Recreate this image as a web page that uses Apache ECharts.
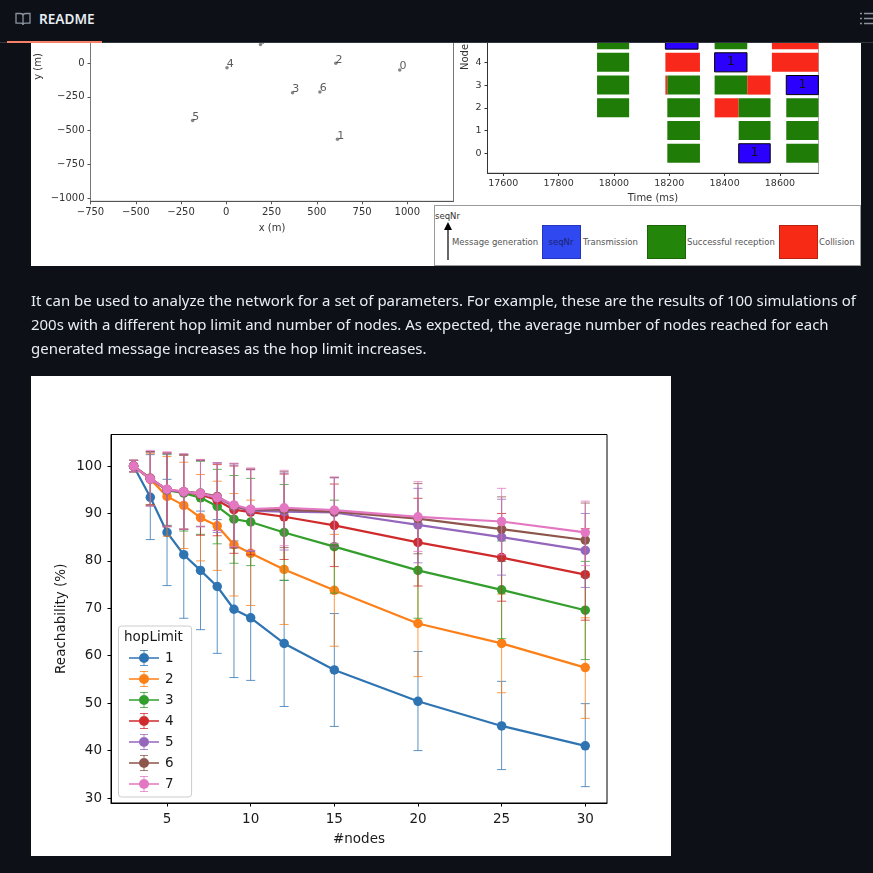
<!DOCTYPE html>
<html>
<head>
<meta charset="utf-8">
<style>
html,body{margin:0;padding:0;width:873px;height:873px;overflow:hidden;background:#0d1117;}
#wrap{position:relative;width:873px;height:873px;overflow:hidden;}
.white{position:absolute;background:#fff;}
#chart{position:absolute;left:0;top:0;width:873px;height:873px;}
#header{position:absolute;left:0;top:0;width:873px;height:43px;background:#0d1117;border-bottom:1px solid #30363d;box-sizing:border-box;}
#tab{position:absolute;left:7px;top:41px;width:95px;height:2px;background:#f78166;}
#readme{position:absolute;left:39px;top:9px;font:600 13.6px/20px "Noto Sans",sans-serif;color:#e6edf3;}
#para{position:absolute;left:31px;top:288px;width:835px;font:14.97px/24px "Noto Sans",sans-serif;color:#e6edf3;white-space:nowrap;}
#key{position:absolute;left:434px;top:205px;width:427px;height:60.5px;box-sizing:border-box;border:1.5px solid #9b9b9b;background:#fff;font:8.5px/10px "DejaVu Sans",sans-serif;color:#555;}
#key span{position:absolute;white-space:nowrap;}
#key i{position:absolute;top:19px;width:39px;height:34px;box-sizing:border-box;}
svg{position:absolute;}
</style>
</head>
<body>
<div id="wrap">
  <div class="white" style="left:31px;top:43px;width:830px;height:223px;"></div>
  <div class="white" style="left:31px;top:376px;width:640px;height:480px;"></div>
  <div id="chart"></div>
  <div id="key">
    <span style="left:0px;top:5px;color:#333;">seqNr</span>
    <svg style="left:8px;top:15px;" width="10" height="40"><path d="M5 39V6" stroke="#000" stroke-width="1.2" fill="none"/><path d="M5 1L9 9H1Z" fill="#000"/></svg>
    <span style="left:17px;top:31px;">Message generation</span>
    <i style="left:106.500px;background:#3048ef;border:1px solid #2433c0;"></i>
    <span style="left:106.500px;width:39px;text-align:center;top:31px;color:#1a2370;">seqNr</span>
    <span style="left:148px;top:31px;">Transmission</span>
    <i style="left:211.500px;background:#23850a;border:1px solid #1a6607;"></i>
    <span style="left:252px;top:31px;">Successful reception</span>
    <i style="left:343.500px;background:#f62a15;border:1px solid #b8200f;"></i>
    <span style="left:384px;top:31px;">Collision</span>
  </div>
  <div id="para">It can be used to analyze the network for a set of parameters. For example, these are the results of 100 simulations of<br>200s with a different hop limit and number of nodes. As expected, the average number of nodes reached for each<br>generated message increases as the hop limit increases.</div>
  <div id="header">
    <svg style="left:15px;top:11px;" width="16" height="16" viewBox="0 0 16 16"><path d="M1 2.500h4.500c1.400 0 2.500 1 2.500 2.300V14c0-1-1-1.800-2.200-1.800H1zM15 2.500h-4.500C9.100 2.500 8 3.500 8 4.800V14c0-1 1-1.800 2.200-1.800H15z" fill="none" stroke="#8b949e" stroke-width="1.300"/></svg>
    <div id="readme">README</div>
    <svg style="left:860px;top:11px;" width="13" height="16" viewBox="0 0 13 16"><path d="M0 2.500h2M4 2.500h9M0 7.500h2M4 7.500h9M0 12.500h2M4 12.500h9" stroke="#8b949e" stroke-width="1.500"/></svg>
  </div>
  <div id="tab"></div>
</div>
<script src="https://cdn.jsdelivr.net/npm/echarts@6/dist/echarts.min.js"></script>
<script>
// --- main chart data ---
const nodeCounts = [3,4,5,6,7,8,9,10,12,15,20,25,30];
const hopLimits = ['1','2','3','4','5','6','7'];
const hopColors = ['#2f74b2','#fd7f17','#339e2c','#cf2b2c','#9467bd','#8c564b','#e377c2'];
const reach1 = [100,93.4,86,81.3,78,74.6,69.8,68,62.6,57,50.4,45.2,41];
const low1   = [98.8,84.5,74.8,67.9,65.5,60.5,55.4,54.8,49.3,45.1,40,36,32.4];
const high1  = [101.2,102.4,97.2,94.7,90.5,88.7,84.2,81.2,75.9,68.9,60.9,54.6,49.9];
const reach2 = [100,97.2,93.6,91.7,89.1,87.4,83.4,81.6,78.2,73.8,66.8,62.6,57.5];
const low2   = [98.8,91.8,85.2,82.6,80,78,72.6,70.6,66.6,62,55.6,52.2,46.8];
const high2  = [101.2,102.6,102,100.8,98.2,96.8,94.2,92.8,89.8,85.6,78,73,68];
const reach3 = [100,97.4,94.9,94.3,93.3,91.5,88.8,88.2,86,83,78,73.9,69.6];
const low3   = [98.8,91.8,87.5,86.3,85.6,83.6,79.5,79,75.9,73.2,67.9,63.6,59.2];
const high3  = [101.2,103,102.4,102.3,101,99.3,98,97.4,96.1,92.8,88,84.2,79.9];
const reach4 = [100,97.4,95,94.5,94,92.8,90.8,90.3,89.3,87.5,83.9,80.7,77.1];
const low4   = [98.8,91.8,87.3,86.7,85.4,85.3,81.6,81.3,80.3,78.8,74.7,71.5,67.5];
const high4  = [101.2,103,102.7,102.3,101.2,100.3,100,99.3,98.3,96.2,93.2,90,86.8];
const reach5 = [100,97.3,95,94.5,94.2,93.3,91.5,90.6,90.4,90.2,87.6,85,82.2];
const low5   = [98.8,91.6,87.4,86.6,87.2,86,82.8,82,82.3,82.9,79.6,77,74.4];
const high5  = [101.2,103,102.6,102.4,101.2,100.6,100.2,99.2,98.5,97.5,95.3,93,90];
const reach6 = [100,97.3,95,94.6,94.3,93.6,91.6,90.8,90.8,90.4,88.9,86.7,84.4];
const low6   = [98.8,91.6,87.2,86.7,87.3,86.4,82.7,82.2,82.8,83.2,81.5,79.9,76.6];
const high6  = [101.2,103,102.8,102.5,101.3,100.7,100.5,99.4,98.8,97.6,96.3,93.5,92.2];
const reach7 = [100,97.3,95.1,94.6,94.2,93.4,91.8,90.9,91.2,90.7,89.3,88.3,86];
const low7   = [98.8,91.6,87.2,86.7,87.2,86.4,83,82.2,83.2,83.7,82,81.3,79];
const high7  = [101.2,103.3,103,102.6,101.4,100.7,100.6,99.6,99.1,97.7,96.7,95.3,92.6];
const xTicks = [5,10,15,20,25,30];
const yTicks = [30,40,50,60,70,80,90,100];

// --- node map data ---
const mapIds = ['0','1','2','3','4','5','6','7'];
const mapX = [958,614,605,366,4,-186,517,189];
const mapY = [-52,-565,-2,-220,-35,-425,-215,138];
const mapXTicks = [-750,-500,-250,0,250,500,750,1000];
const mapYTicks = [-1000,-750,-500,-250,0];

// --- timeline data ---
const slotNode  = [5,5,5,5, 4,4,4,4, 3,3,3,3,3,3, 2,2,2,2,2, 1,1,1, 0,0,0];
const slotStart = [17939,18186,18364,18571, 17939,18186,18364,18571, 17939,18186,18193,18364,18482,18623, 17939,18193,18364,18451,18623, 18193,18451,18623, 18193,18451,18623];
const slotEnd   = [18055,18304,18482,18739, 18055,18311,18481,18739, 18055,18193,18311,18482,18566,18739, 18055,18311,18451,18566,18739, 18311,18566,18739, 18311,18565,18739];
const slotKind  = ['rx','tx','rx','col', 'rx','col','tx','col', 'rx','col','rx','rx','col','tx', 'rx','rx','col','rx','rx', 'rx','rx','rx', 'rx','tx','rx'];
const slotSeq   = ['','','','', '','','1','', '','','','','','1', '','','','','', '','','', '','1',''];
const timeTicks = [17600,17800,18000,18200,18400,18600];
const nodeTicks = [0,1,2,3,4];

const allReach = [reach1,reach2,reach3,reach4,reach5,reach6,reach7];
const allLow = [low1,low2,low3,low4,low5,low6,low7];
const allHigh = [high1,high2,high3,high4,high5,high6,high7];

const FONT = '"DejaVu Sans", sans-serif';
const KIND_COLOR = {rx:'#1f7c07', tx:'#2c00ff', col:'#f8291a'};
const LEGEND_ICON = 'path://M0 7.200H30V8.800H0Z M10 8A5 5 0 1 1 20 8A5 5 0 1 1 10 8Z M14.600 0H15.400V16H14.600Z M11 0H19V.8H11Z M11 15.200H19V16H11Z';

function errorRender(color){
  return function(params, api){
    const x = api.value(0);
    const a = api.coord([x, api.value(1)]);
    const b = api.coord([x, api.value(2)]);
    const style = {stroke: color, lineWidth: 1, opacity: 0.78, fill: 'none'};
    const cap = 4.5;
    return {type:'group', children:[
      {type:'line', shape:{x1:a[0],y1:a[1],x2:b[0],y2:b[1]}, style:style},
      {type:'line', shape:{x1:a[0]-cap,y1:a[1],x2:a[0]+cap,y2:a[1]}, style:style},
      {type:'line', shape:{x1:b[0]-cap,y1:b[1],x2:b[0]+cap,y2:b[1]}, style:style}
    ]};
  };
}

const mainSeries = [];
hopLimits.forEach(function(h,i){
  mainSeries.push({
    type:'custom', name:'err'+h, xAxisIndex:0, yAxisIndex:0, z:10+i*2, silent:true,
    renderItem: errorRender(hopColors[i]),
    encode:{x:0,y:[1,2]},
    data: nodeCounts.map(function(n,k){return [n,allLow[i][k],allHigh[i][k]];})
  });
  mainSeries.push({
    type:'line', name:h, xAxisIndex:0, yAxisIndex:0, z:11+i*2, silent:true, animation:false,
    symbol:'circle', symbolSize:9.5, showAllSymbol:true,
    lineStyle:{width:2.2,color:hopColors[i]}, itemStyle:{color:hopColors[i]},
    data: nodeCounts.map(function(n,k){return [n,allReach[i][k]];})
  });
});

function smallAxis(extra, color){
  return Object.assign({
    type:'value', splitLine:{show:false},
    axisLine:{show:true,onZero:false,lineStyle:{color:color,width:1}},
    axisTick:{show:true,length:3,lineStyle:{color:color}},
    axisLabel:{fontSize:9.5,color:'#333',fontFamily:FONT,margin:5},
    nameTextStyle:{fontSize:10,color:'#333',fontFamily:FONT}, nameLocation:'middle'
  }, extra);
}
function minusFmt(v){ return String(v).replace('-','\u2212'); }

const option = {
  animation:false,
  backgroundColor:'transparent',
  textStyle:{fontFamily:FONT},
  grid:[
    {left:111, top:434.5, width:496, height:368.5, show:true, borderColor:'#000', borderWidth:1, backgroundColor:'transparent', containLabel:false},
    {left:90.5, top:0, width:363, height:201.3, show:true, borderColor:'#777', borderWidth:1, backgroundColor:'transparent'},
    {left:487.5, top:0, width:331, height:173, show:true, borderColor:'#aaa', borderWidth:1, backgroundColor:'transparent'}
  ],
  xAxis:[
    {type:'value', gridIndex:0, min:1.65, max:31.3, splitLine:{show:false},
     axisLine:{show:true,onZero:false,lineStyle:{color:'#000',width:1}},
     axisTick:{show:true,length:3.5,lineStyle:{color:'#000'},customValues:xTicks},
     axisLabel:{fontSize:13.5,color:'#1a1a1a',fontFamily:FONT,margin:9,customValues:xTicks},
     name:'#nodes', nameLocation:'middle', nameGap:29, nameTextStyle:{fontSize:13.5,color:'#1a1a1a',fontFamily:FONT}},
    smallAxis({gridIndex:1, min:-750, max:1255, name:'x (m)', nameGap:22,
      axisTick:{show:true,length:3,lineStyle:{color:'#555'},customValues:mapXTicks},
      axisLabel:{fontSize:10,color:'#333',fontFamily:FONT,margin:6,customValues:mapXTicks,formatter:minusFmt}}, '#555'),
    smallAxis({gridIndex:2, min:17543, max:18739.5, name:'Time (ms)', nameGap:20,
      axisTick:{show:true,length:3,lineStyle:{color:'#333'},customValues:timeTicks},
      axisLabel:{fontSize:9.5,color:'#333',fontFamily:FONT,margin:6,customValues:timeTicks,formatter:function(v){return String(v);}}}, '#333')
  ],
  yAxis:[
    {type:'value', gridIndex:0, min:28.95, max:106.65, splitLine:{show:false},
     axisLine:{show:true,onZero:false,lineStyle:{color:'#000',width:1}},
     axisTick:{show:true,length:3.5,lineStyle:{color:'#000'},customValues:yTicks},
     axisLabel:{fontSize:13.5,color:'#1a1a1a',fontFamily:FONT,margin:9,customValues:yTicks},
     name:'Reachability (%)', nameLocation:'middle', nameGap:43, nameMoveOverlap:false, nameTextStyle:{fontSize:13.5,color:'#1a1a1a',fontFamily:FONT}},
    smallAxis({gridIndex:1, min:-1024, max:466.7,
      axisTick:{show:true,length:3,lineStyle:{color:'#555'},customValues:mapYTicks},
      axisLabel:{fontSize:10,color:'#333',fontFamily:FONT,margin:6,customValues:mapYTicks,formatter:minusFmt}}, '#777'),
    smallAxis({gridIndex:2, min:-0.866, max:6.74,
      axisTick:{show:true,length:3,lineStyle:{color:'#333'},customValues:nodeTicks},
      axisLabel:{fontSize:9.5,color:'#333',fontFamily:FONT,margin:6,customValues:nodeTicks}}, '#333')
  ],
  legend:{
    show:true, orient:'vertical', left:118.5, top:626, itemWidth:30, itemHeight:16, itemGap:5,
    padding:[24,18,5,10.5], backgroundColor:'rgba(255,255,255,0.85)', borderColor:'#ccc', borderWidth:1, borderRadius:3,
    selectedMode:false, textStyle:{fontSize:13.5,color:'#1a1a1a',fontFamily:FONT,padding:[0,0,0,1]},
    icon:LEGEND_ICON, z:60,
    data:hopLimits.map(function(h){return {name:h,icon:LEGEND_ICON};})
  },
  graphic:[
    {type:'text',z:70,left:124,top:630,style:{text:'hopLimit',fontSize:13.5,fill:'#1a1a1a',fontFamily:FONT}},
    {type:'text',z:5,x:38,y:66.5,rotation:Math.PI/2,style:{text:'y (m)',fontSize:10,fill:'#333',fontFamily:FONT,align:'center',verticalAlign:'middle'}},
    {type:'text',z:5,x:465,y:57,rotation:Math.PI/2,style:{text:'Node',fontSize:10,fill:'#333',fontFamily:FONT,align:'center',verticalAlign:'middle'}}
  ],
  series: mainSeries.concat([
    {type:'scatter', xAxisIndex:1, yAxisIndex:1, symbolSize:3.5, itemStyle:{color:'#666'}, silent:true,
     label:{show:true,position:'right',distance:0,offset:[-2,-3.5],fontSize:11,color:'#333',fontFamily:FONT,
       formatter:function(p){return p.value[2];}},
     data:mapIds.map(function(id,k){return [mapX[k],mapY[k],id];})},
    {type:'custom', xAxisIndex:2, yAxisIndex:2, silent:true,
     encode:{x:[1,2],y:0},
     renderItem:function(params,api){
       const node=api.value(0);
       const tl=api.coord([api.value(1),node+0.42]);
       const br=api.coord([api.value(2),node-0.42]);
       const idx=params.dataIndex;
       const kind=slotKind[idx];
       const rect={type:'rect',shape:{x:tl[0],y:tl[1],width:br[0]-tl[0],height:br[1]-tl[1]},
         style:{fill:KIND_COLOR[kind],stroke:kind==='tx'?'#000':null,lineWidth:kind==='tx'?1:0}};
       const kids=[rect];
       if(slotSeq[idx]){
         kids.push({type:'text',style:{text:slotSeq[idx],x:(tl[0]+br[0])/2,y:(tl[1]+br[1])/2,align:'center',verticalAlign:'middle',fontSize:12,fill:'#111',fontFamily:FONT}});
       }
       return {type:'group',children:kids};
     },
     data:slotNode.map(function(n,k){return [n,slotStart[k],slotEnd[k]];})}
  ])
};
const chart = echarts.init(document.getElementById('chart'),null,{renderer:'canvas'});
chart.setOption(option);
</script>
</body>
</html>
